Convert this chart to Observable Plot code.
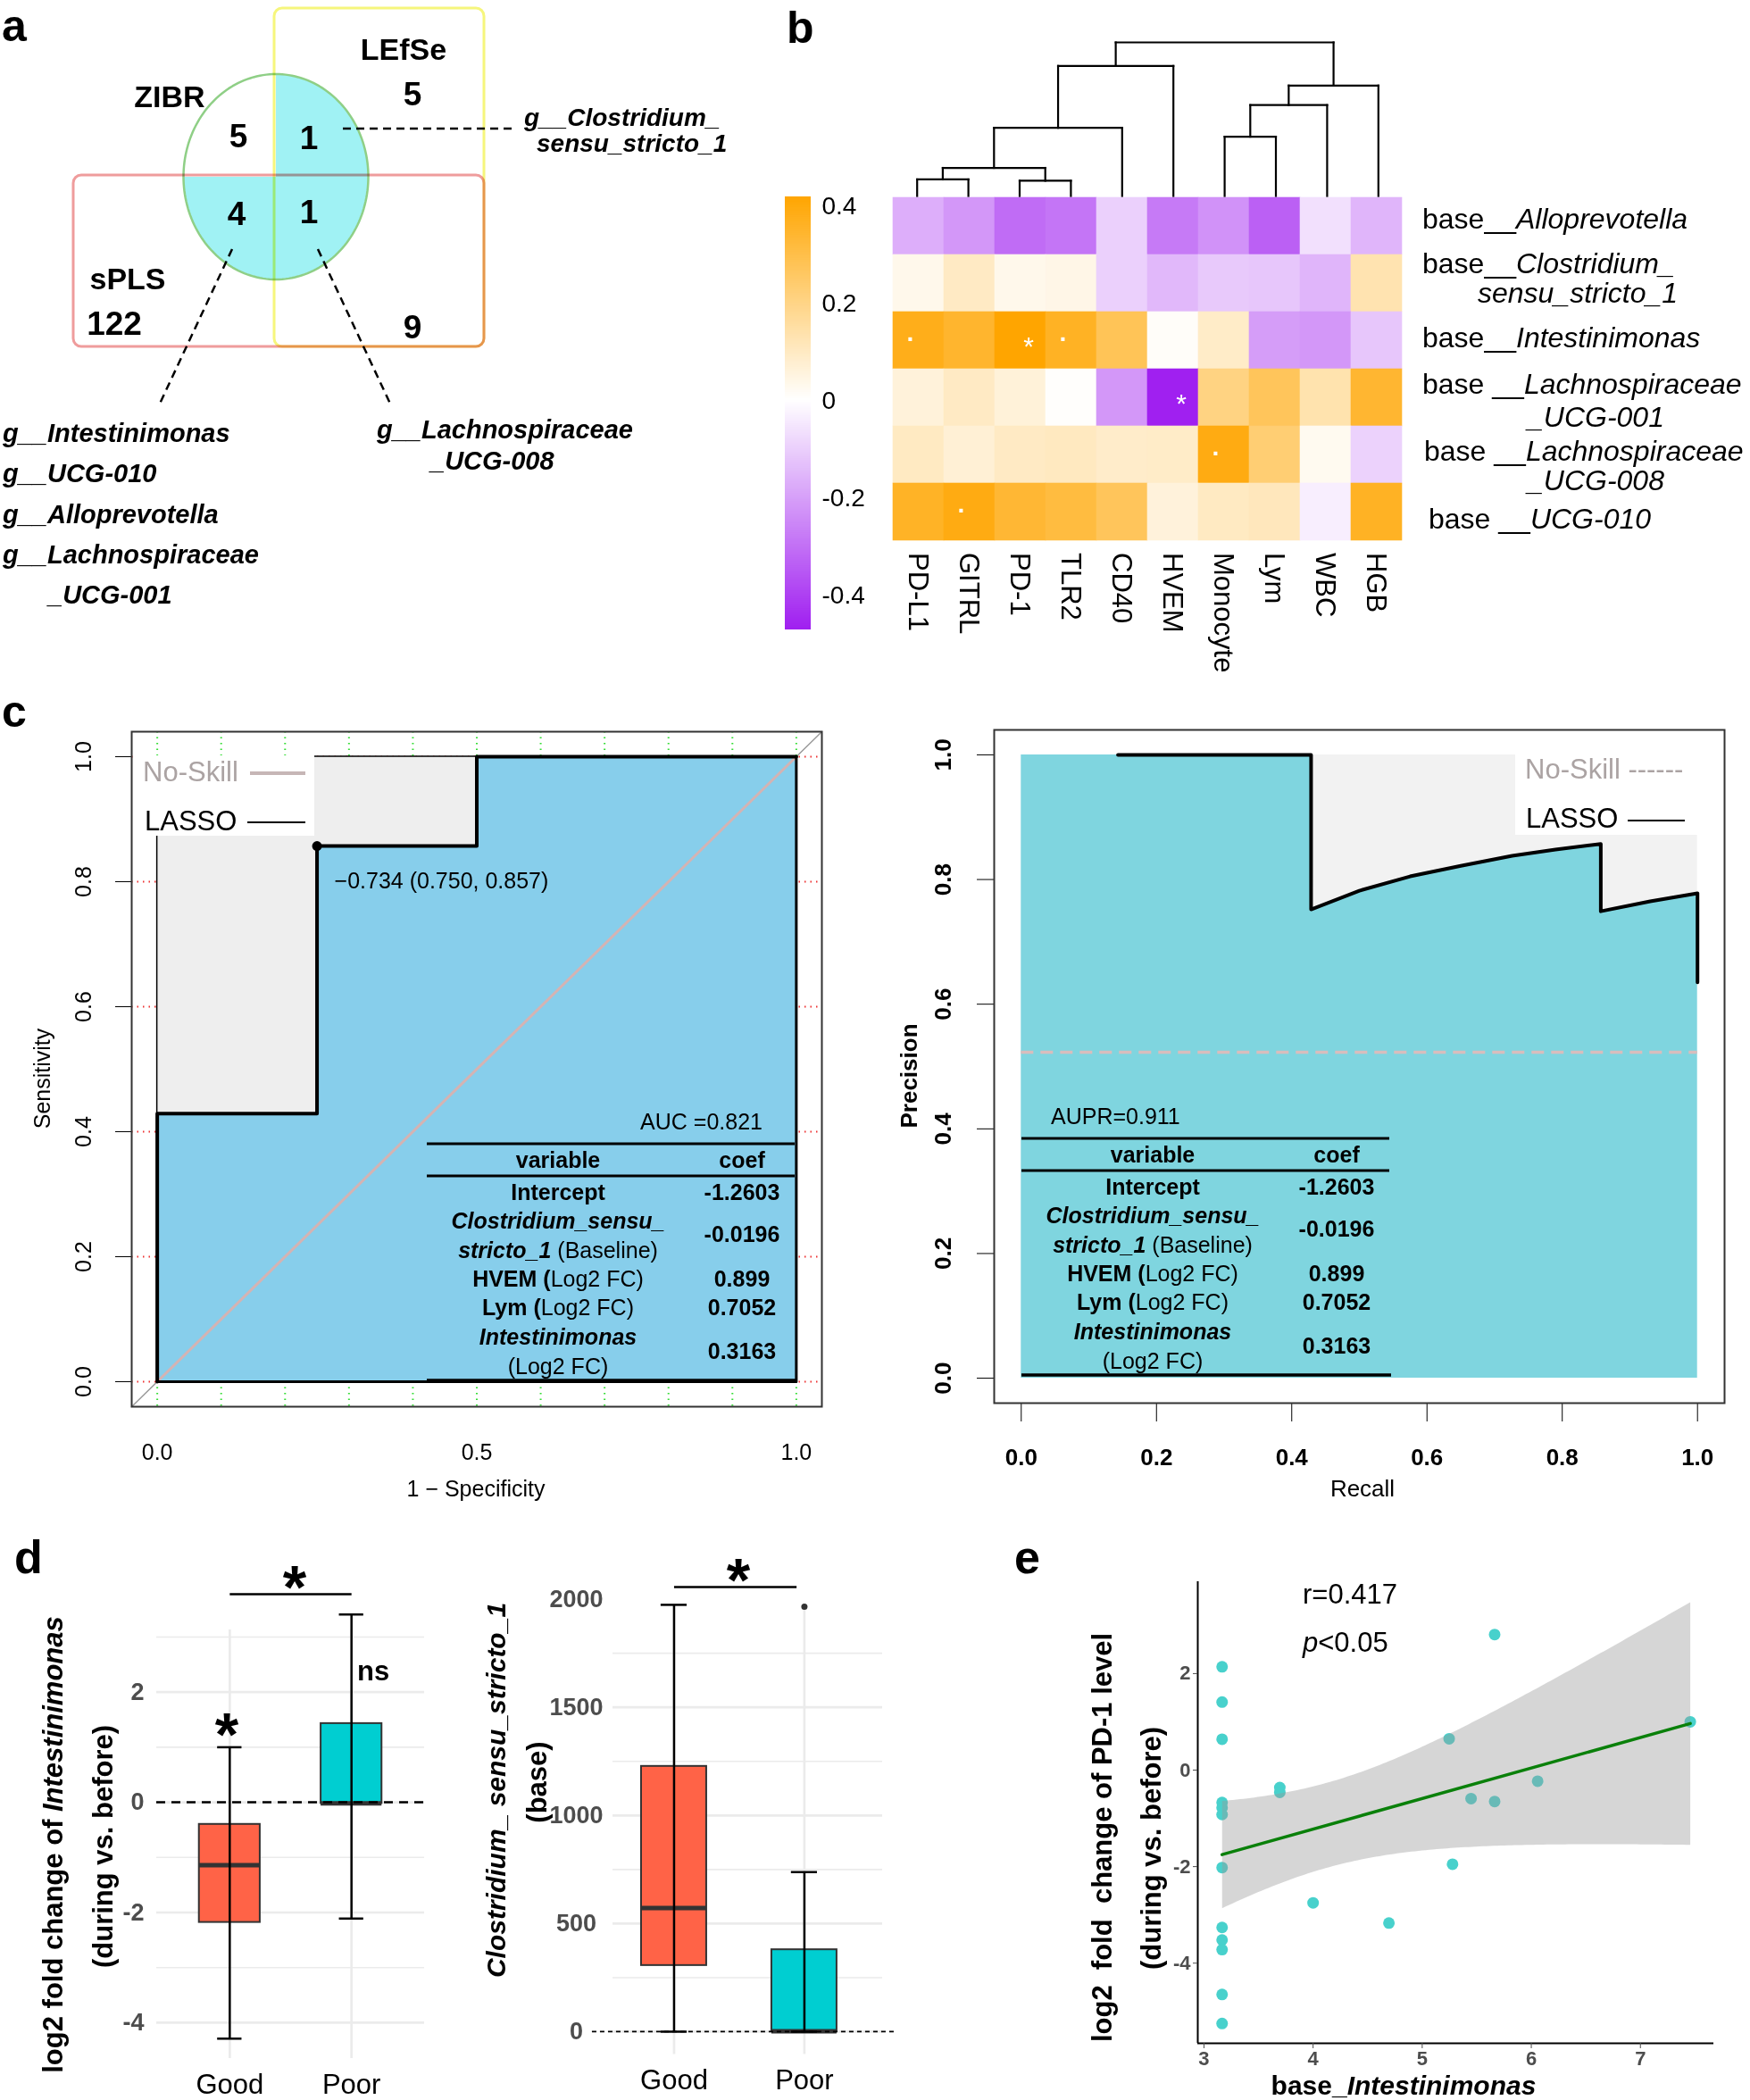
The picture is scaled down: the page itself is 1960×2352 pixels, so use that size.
<!DOCTYPE html>
<html><head><meta charset="utf-8">
<script src="https://cdn.jsdelivr.net/npm/d3@7"></script>
<script src="https://cdn.jsdelivr.net/npm/@observablehq/plot@0.6"></script>
<style>
html,body{margin:0;padding:0;background:#fff;}
#root{position:relative;width:1960px;height:2352px;background:#fff;overflow:hidden;font-family:"Liberation Sans",Arial,sans-serif;}
#overlay text{white-space:pre;}
</style></head><body><div id="root"></div>
<script>
// ================= DATA =================
// (a) Venn
const vennRegions = ["LEfSe only","ZIBR only","ZIBR∩LEfSe","ZIBR∩sPLS","ZIBR∩LEfSe∩sPLS","sPLS only","sPLS∩LEfSe"];
const vennCounts  = [5, 5, 1, 4, 1, 122, 9];
const vennSetNames = ["LEfSe","ZIBR","sPLS"];
const genusZibrLefse = ["g__Clostridium_","sensu_stricto_1"];
const genusZibrSpls  = ["g__Intestinimonas","g__UCG-010","g__Alloprevotella","g__Lachnospiraceae","_UCG-001"];
const genusAllThree  = ["g__Lachnospiraceae","_UCG-008"];

// (b) heatmap
const heatCols = ["PD-L1","GITRL","PD-1","TLR2","CD40","HVEM","Monocyte","Lym","WBC","HGB"];
const heatRows = ["Alloprevotella","Clostridium_sensu_stricto_1","Intestinimonas","Lachnospiraceae_UCG-001","Lachnospiraceae_UCG-008","UCG-010"];
const heatValues = [
  [-0.17,-0.22,-0.31,-0.29,-0.10,-0.28,-0.23,-0.335,-0.065,-0.155],
  [ 0.033,0.097,0.033,0.04,-0.10,-0.15,-0.114,-0.12,-0.155,0.13],
  [ 0.378,0.345,0.42,0.36,0.277,0.01,0.09,-0.206,-0.22,-0.12],
  [ 0.061,0.097,0.063,0.005,-0.22,-0.47,0.206,0.27,0.133,0.34],
  [ 0.10,0.07,0.098,0.104,0.087,0.09,0.39,0.23,0.025,-0.095],
  [ 0.357,0.39,0.334,0.315,0.27,0.06,0.10,0.11,-0.036,0.36]
];
const heatSigRow = ["Intestinimonas","Intestinimonas","Intestinimonas","Lachnospiraceae_UCG-001","Lachnospiraceae_UCG-008","UCG-010"];
const heatSigCol = ["PD-L1","PD-1","TLR2","HVEM","Monocyte","GITRL"];
const heatSigMark = [".","*",".","*",".","."];
const colorTicks = [-0.4,-0.2,0,0.2,0.4];
const colorLimits = [-0.47, 0.42];
// dendrogram (hclust style: negative = leaf index+1, positive = merge number)
const dendroLeft   = [-1,-3, 1, 3, 4,-7, 6, 7, 5];
const dendroRight  = [-2,-4, 2,-5,-6,-8,-9,-10, 8];
const dendroHeight = [0.185,0.17,0.314,0.762,1.454,0.663,1.016,1.235,1.717];

// (c) ROC
const rocFPR = [0, 0, 0.25, 0.25, 0.5, 0.5, 1];
const rocTPR = [0, 0.429, 0.429, 0.857, 0.857, 1, 1];
const rocBest = {threshold: -0.734, specificity: 0.750, sensitivity: 0.857};
const rocAUC = 0.821;
// (c) PR
const prRecall    = [0, 0.143, 0.4286, 0.4286, 0.50, 0.575, 0.65, 0.726, 0.79, 0.857, 0.857, 0.93, 1, 1];
const prPrecision = [1, 1, 1, 0.752, 0.782, 0.805, 0.822, 0.838, 0.848, 0.857, 0.749, 0.765, 0.778, 0.635];
const prNoSkill = 0.523;
const prAUPR = 0.911;
// LASSO table
const lassoTerms = ["Intercept","Clostridium_sensu_stricto_1 (Baseline)","HVEM (Log2 FC)","Lym (Log2 FC)","Intestinimonas (Log2 FC)"];
const lassoCoefs = ["-1.2603","-0.0196","0.899","0.7052","0.3163"];

// (d) boxplots
const boxGroups = ["Good","Poor"];
const intQ1 = [-2.18,-0.02], intMed = [-1.14,-0.02], intQ3 = [-0.40,1.43], intLo = [-4.29,-2.11], intHi = [1.0,3.41];
const cloQ1 = [306,0], cloMed = [572,2], cloQ3 = [1227,379], cloLo = [0,0], cloHi = [1974,738];
const cloOutGroup = [2], cloOutValue = [1965];

// (e) scatter
const eX = [3.166,3.166,3.166,3.166,3.166,3.166,3.166,3.166,3.166,3.166,3.166,3.166,3.695,3.695,4.0,4.695,5.247,5.278,5.448,5.664,5.664,6.058,7.457];
const eY = [2.14,1.41,0.64,-0.67,-0.78,-0.92,-2.02,-3.26,-3.52,-3.72,-4.65,-5.25,-0.36,-0.46,-2.75,-3.17,0.65,-1.95,-0.59,2.81,-0.65,-0.23,1.0];
const eR = "r=0.417", eP = "<0.05";

// ================= SETUP =================
const root = document.getElementById("root");
const FONT = "'Liberation Sans', Arial, sans-serif";
const baseStyle = {fontFamily: FONT, background: "transparent", overflow: "visible"};
const fmt = d => String(d);
function place(el, left, top) {
  el.style.position = "absolute"; el.style.left = left + "px"; el.style.top = top + "px";
  el.style.maxWidth = "none";
  root.appendChild(el); return el;
}

// ================= (a) VENN =================
const VL = {lefse: {x1:307,x2:542,y1:9,y2:388}, spls: {x1:82,x2:542,y1:196,y2:388}, zibr: {cx:308.5,cy:197.5,rx:103.5,ry:115}};
const ell = a => ({x: VL.zibr.cx + VL.zibr.rx*Math.cos(a*Math.PI/180), y: VL.zibr.cy - VL.zibr.ry*Math.sin(a*Math.PI/180)});
const ellipseRing = d3.range(0, 361, 2).map(ell);
const cyanPart = [{x:VL.zibr.cx, y:VL.zibr.cy}, ...d3.range(180, 451, 2).map(ell), {x:VL.zibr.cx, y:VL.zibr.cy}];
const venn = Plot.plot({
  width: 900, height: 700, margin: 0,
  x: {domain:[0,900], range:[0,900], axis:null}, y: {domain:[0,700], range:[0,700], axis:null},
  style: baseStyle,
  marks: [
    Plot.line(cyanPart, {x:"x", y:"y", fill:"#A0F2F4", stroke:"none"}),
    Plot.line(ellipseRing, {x:"x", y:"y", stroke:"#8FCF86", strokeWidth:2.5}),
    Plot.rect([VL.spls], {x1:"x1", x2:"x2", y1:"y1", y2:"y2", fill:"none", stroke:"#EF9C9C", strokeWidth:3, rx:9, mixBlendMode:"multiply"}),
    Plot.rect([VL.lefse], {x1:"x1", x2:"x2", y1:"y1", y2:"y2", fill:"none", stroke:"#F6F67C", strokeWidth:3, rx:9, mixBlendMode:"multiply"})
  ]
});
place(venn, 0, 0);

// ================= (b) HEATMAP =================
const colorCfg = {type:"linear", domain:[colorLimits[0], 0, colorLimits[1]], range:["#A020F0","#FFFFFF","#FFA500"], interpolate:"rgb", clamp:true};
const heatData = heatRows.flatMap((r,i) => heatCols.map((c,j) => ({row:r, col:c, v:heatValues[i][j]})));
const sigData = heatSigMark.map((m,k) => ({row:heatSigRow[k], col:heatSigCol[k], m}));
const heat = Plot.plot({
  width: 1100, height: 780, marginLeft: 138, marginRight: 388, marginTop: 219, marginBottom: 173,
  x: {domain: heatCols, padding: 0, axis: null}, y: {domain: heatRows, padding: 0, axis: null},
  color: colorCfg, style: baseStyle,
  marks: [
    Plot.cell(heatData, {x:"col", y:"row", fill:"v", stroke:"v", strokeWidth:0.6, inset:0}),
    Plot.text(sigData.filter(d => d.m === "*"), {x:"col", y:"row", text:"m", fill:"white", fontSize:30, dx:9, dy:7}),
    Plot.text(sigData.filter(d => d.m === "."), {x:"col", y:"row", text:"m", fill:"white", fontSize:28, fontWeight:"bold", dx:-9.5, dy:-8})
  ]
});
place(heat, 860, 0);

// dendrogram
const nodeX = [], nodeH = [], segs = [];
const nodePos = id => id < 0 ? {x: -id - 1, h: 0} : {x: nodeX[id-1], h: nodeH[id-1]};
dendroHeight.forEach((h, k) => {
  const A = nodePos(dendroLeft[k]), B = nodePos(dendroRight[k]);
  segs.push({x1:A.x, y1:A.h, x2:A.x, y2:h}, {x1:B.x, y1:B.h, x2:B.x, y2:h}, {x1:A.x, y1:h, x2:B.x, y2:h});
  nodeX[k] = (A.x + B.x)/2; nodeH[k] = h;
});
const dendro = Plot.plot({
  width: 1100, height: 230, marginLeft: 138, marginRight: 388, marginTop: 47, marginBottom: 11,
  x: {domain:[-0.5, heatCols.length - 0.5], axis:null}, y: {domain:[0, d3.max(dendroHeight)], axis:null},
  style: baseStyle,
  marks: [Plot.link(segs, {x1:"x1", y1:"y1", x2:"x2", y2:"y2", stroke:"#000", strokeWidth:2.2, strokeLinecap:"square"})]
});
place(dendro, 860, 0);

// colour bar
const rampVals = d3.range(colorLimits[0], colorLimits[1], 0.004);
const cbar = Plot.plot({
  width: 120, height: 540, marginLeft: 19, marginRight: 72, marginTop: 20, marginBottom: 35,
  x: {domain:[0,1], axis:null}, y: {domain: colorLimits, label:null}, color: colorCfg, style: baseStyle,
  marks: [
    Plot.rect(rampVals, {x1:0, x2:1, y1:d => d, y2:d => Math.min(d + 0.006, colorLimits[1]), fill:d => d}),
    Plot.axisY({anchor:"right", ticks: colorTicks, tickFormat: fmt, tickSize:0, tickPadding:12, fontSize:28, label:null})
  ]
});
place(cbar, 860, 200);

// ================= (c) ROC =================
const rocDomain = [-0.04, 1.04];
const roc = rocFPR.map((x,i) => ({x, y: rocTPR[i]}));
const rocClose = [{x:1, y:1}, {x:1, y:0}, {x:0, y:0}];
const noSkill = [{x:0, y:0}, {x:1, y:1}];
const rocPt = {x: 1 - rocBest.specificity, y: rocBest.sensitivity};
const rocPlot = Plot.plot({
  width: 960, height: 920, marginLeft: 147, marginRight: 40, marginTop: 39, marginBottom: 125,
  x: {domain: rocDomain, label: null}, y: {domain: rocDomain, label: null}, style: baseStyle,
  marks: [
    Plot.ruleX(d3.range(0, 11).map(i => i/10), {stroke:"#33DD33", strokeWidth:2, strokeDasharray:"1.5,5"}),
    Plot.ruleY(d3.range(0, 6).map(i => i/5), {stroke:"#EE3333", strokeWidth:2, strokeDasharray:"1.5,5"}),
    Plot.line(rocDomain.map(v => ({x:v, y:v})), {x:"x", y:"y", stroke:"#9A9A9A", strokeWidth:1.5}),
    Plot.areaY(roc, {x:"x", y1:0, y2:"y", fill:"#87CEEB"}),
    Plot.areaY(roc, {x:"x", y1:"y", y2:1, fill:"#EEEEEE", stroke:"#000", strokeWidth:1.5}),
    Plot.line(noSkill, {x:"x", y:"y", stroke:"#D4B3B3", strokeWidth:3}),
    Plot.line(rocClose, {x:"x", y:"y", stroke:"#000", strokeWidth:3}),
    Plot.line(roc, {x:"x", y:"y", stroke:"#000", strokeWidth:4}),
    Plot.dot([rocPt], {x:"x", y:"y", r:5.5, fill:"#000"}),
    Plot.axisY({ticks:[0,0.2,0.4,0.6,0.8,1], tickFormat: d => d.toFixed(1), tickSize:18, tickRotate:-90, tickPadding:28, fontSize:25, label:null}),
    Plot.axisX({ticks:[0,0.5,1], tickFormat: d => d.toFixed(1), tickSize:0, tickPadding:42, fontSize:25, label:null}),
    Plot.frame({stroke:"#333", strokeWidth:2})
  ]
});
place(rocPlot, 0, 780);

// ================= (c) PR =================
const pr = prRecall.map((r,i) => ({r, p: prPrecision[i]}));
const prPlot = Plot.plot({
  width: 1000, height: 920, marginLeft: 153, marginRight: 29, marginTop: 37, marginBottom: 129,
  x: {domain: rocDomain, label:null}, y: {domain: rocDomain, label:null}, style: baseStyle,
  marks: [
    Plot.areaY(pr, {x:"r", y1:0, y2:"p", fill:"#7FD5DF"}),
    Plot.areaY(pr, {x:"r", y1:"p", y2:1, fill:"#F2F2F2"}),
    Plot.ruleY([prNoSkill], {x1:0, x2:1, stroke:"#D8BDBD", strokeWidth:3.5, strokeDasharray:"14,8"}),
    Plot.line(pr.slice(1), {x:"r", y:"p", stroke:"#000", strokeWidth:4}),
    Plot.axisY({ticks:[0,0.2,0.4,0.6,0.8,1], tickFormat: d => d.toFixed(1), tickSize:19, tickRotate:-90, tickPadding:30, fontSize:26, fontWeight:"bold", label:null}),
    Plot.axisX({ticks:[0,0.2,0.4,0.6,0.8,1], tickFormat: d => d.toFixed(1), tickSize:21, tickPadding:30, fontSize:26, fontWeight:"bold", label:null}),
    Plot.frame({stroke:"#333", strokeWidth:2})
  ]
});
place(prPlot, 960, 780);

// ================= (d) BOXPLOTS =================
const boxColors = ["#FF6347", "#00CED1"];
function boxMarks(S, zeroOpts) {
  const d = boxGroups.map((g,k) => ({g, i:k+1, q1:S.q1[k], med:S.med[k], q3:S.q3[k], lo:S.lo[k], hi:S.hi[k]}));
  return [
    ...d.map((v,k) => Plot.rect([v], {x1: w => w.i - 0.25, x2: w => w.i + 0.25, y1:"q1", y2:"q3", fill: boxColors[k], stroke:"#333", strokeWidth:2})),
    Plot.ruleY(d, {y:"med", x1: w => w.i - 0.25, x2: w => w.i + 0.25, stroke:"#333", strokeWidth:5}),
    Plot.ruleY([0], zeroOpts),
    Plot.ruleX(d, {x:"i", y1:"lo", y2:"hi", stroke:"#000", strokeWidth:2.5}),
    Plot.ruleY(d, {y:"hi", x1: w => w.i - 0.1, x2: w => w.i + 0.1, stroke:"#000", strokeWidth:2.5}),
    Plot.ruleY(d, {y:"lo", x1: w => w.i - 0.1, x2: w => w.i + 0.1, stroke:"#000", strokeWidth:2.5})
  ];
}
const grid = "#EBEBEB";
const boxL = Plot.plot({
  width: 500, height: 652, marginLeft: 175, marginRight: 25, marginTop: 125, marginBottom: 47,
  x: {domain:[0.4, 2.6], label:null}, y: {domain:[-4.65, 3.13], label:null}, style: baseStyle,
  marks: [
    Plot.ruleY([-3,-1,1,3], {stroke:grid, strokeWidth:1.6}),
    Plot.ruleY([-4,-2,0,2], {stroke:grid, strokeWidth:2.7}),
    Plot.ruleX([1,2], {stroke:grid, strokeWidth:2.7}),
    ...boxMarks({q1:intQ1, med:intMed, q3:intQ3, lo:intLo, hi:intHi}, {stroke:"#000", strokeWidth:2.5, strokeDasharray:"10,7"}),
    Plot.link([{x1:1, x2:2, y:3.78}], {x1:"x1", x2:"x2", y1:"y", y2:"y", stroke:"#000", strokeWidth:2.5}),
    Plot.axisY({ticks:[-4,-2,0,2], tickFormat: fmt, tickSize:0, tickPadding:14, fontSize:27, fontWeight:"bold", color:"#4D4D4D", label:null}),
    Plot.axisX({ticks:[1,2], tickFormat: i => boxGroups[i-1], tickSize:0, tickPadding:17, fontSize:31, label:null})
  ]
});
place(boxL, 0, 1700);

const boxR = Plot.plot({
  width: 500, height: 652, marginLeft: 186, marginRight: 12, marginTop: 88.2, marginBottom: 51.6,
  x: {domain:[0.531, 2.6], label:null}, y: {domain:[-105, 2010], label:null}, style: baseStyle,
  marks: [
    Plot.ruleY([250,750,1250,1750], {stroke:grid, strokeWidth:1.6}),
    Plot.ruleY([0,500,1000,1500], {stroke:grid, strokeWidth:2.7}),
    Plot.ruleX([1,2], {y1:-105, y2:1975, stroke:grid, strokeWidth:2.7}),
    ...boxMarks({q1:cloQ1, med:cloMed, q3:cloQ3, lo:cloLo, hi:cloHi}, {x1:0.373, x2:2.7, stroke:"#000", strokeWidth:1.8, strokeDasharray:"5,4"}),
    Plot.dot(cloOutGroup.map((g,k) => ({g, v:cloOutValue[k]})), {x:"g", y:"v", r:3.5, fill:"#333"}),
    Plot.link([{x1:1, x2:1.94, y:2056}], {x1:"x1", x2:"x2", y1:"y", y2:"y", stroke:"#000", strokeWidth:2.5}),
    Plot.axisY({ticks:[0,500,1000,1500,2000], tickFormat: fmt, tickSize:0, tickPadding:41, textAnchor:"middle", fontSize:27, fontWeight:"bold", color:"#4D4D4D", label:null}),
    Plot.axisX({ticks:[1,2], tickFormat: i => boxGroups[i-1], tickSize:0, tickPadding:17, fontSize:31, label:null})
  ]
});
place(boxR, 500, 1700);

// ================= (e) SCATTER =================
const ePts = eX.map((x,i) => ({x, y: eY[i]}));
const eXd = [2.943, 7.673], eYd = [-5.661, 3.904];
const scat = Plot.plot({
  width: 860, height: 652, marginLeft: 241, marginRight: 41, marginTop: 71, marginBottom: 64,
  x: {domain: eXd, label:null}, y: {domain: eYd, label:null}, style: baseStyle,
  marks: [
    Plot.dot(ePts, {x:"x", y:"y", r:6.5, fill:"#48D1CC"}),
    Plot.linearRegressionY(ePts, {x:"x", y:"y", stroke:"#0A800A", strokeWidth:3.5, fill:"#999999", fillOpacity:0.4, ci:0.95}),
    Plot.ruleX([eXd[0]], {stroke:"#000", strokeWidth:2}),
    Plot.ruleY([eYd[0]], {stroke:"#000", strokeWidth:2}),
    Plot.axisX({ticks:[3,4,5,6,7], tickFormat: fmt, tickSize:6, tickPadding:3, fontSize:22, fontWeight:"bold", color:"#4D4D4D", label:null}),
    Plot.axisY({ticks:[-4,-2,0,2], tickFormat: fmt, tickSize:5, tickPadding:3, fontSize:22, fontWeight:"bold", color:"#4D4D4D", label:null})
  ]
});
place(scat, 1100, 1700);

// ================= OVERLAY TEXT =================
const ov = d3.create("svg").attr("id","overlay").attr("width",1960).attr("height",2352)
  .style("position","absolute").style("left","0px").style("top","0px")
  .style("font-family", FONT).style("pointer-events","none").style("overflow","visible");
root.appendChild(ov.node());
function T(x, y, parts, o = {}) {
  const t = ov.append("text").attr("font-size", o.size || 28).attr("text-anchor", o.anchor || "start")
    .attr("font-weight", o.weight || "normal").attr("fill", o.fill || "#000");
  let tr = `translate(${x},${y})`;
  if (o.rotate) tr += ` rotate(${o.rotate})`;
  if (o.sx) tr += ` scale(${o.sx},1)`;
  t.attr("transform", tr);
  if (o.dy) t.attr("dy", o.dy);
  if (typeof parts === "string") parts = [[parts]];
  for (const [s, st = ""] of parts) {
    const ts = t.append("tspan").text(s);
    if (st.includes("i")) ts.attr("font-style", "italic");
    if (st.includes("b")) ts.attr("font-weight", "bold");
    if (st.includes("n")) ts.attr("font-weight", "normal");
  }
  return t;
}
function L(x1, y1, x2, y2, o = {}) {
  ov.append("line").attr("x1",x1).attr("y1",y1).attr("x2",x2).attr("y2",y2)
    .attr("stroke", o.stroke || "#000").attr("stroke-width", o.w || 2).attr("stroke-dasharray", o.dash || null);
}
function R(x, y, w, h, fill) { ov.append("rect").attr("x",x).attr("y",y).attr("width",w).attr("height",h).attr("fill",fill); }

// panel letters
T(2, 46, "a", {size:50, weight:"bold"});
T(881, 48, "b", {size:50, weight:"bold"});
T(2, 814, "c", {size:50, weight:"bold"});
T(16, 1762, "d", {size:52, weight:"bold"});
T(1136, 1762, "e", {size:52, weight:"bold"});

// (a) text
const setLabelPos = [[452,67],[190,120],[143,324]];
vennSetNames.forEach((s,k) => T(setLabelPos[k][0], setLabelPos[k][1], s, {size:34, weight:"bold", anchor:"middle"}));
const countPos = [[462,118],[267,165],[346,167],[265,252],[346,250],[128,375],[462,379]];
vennCounts.forEach((c,k) => T(countPos[k][0], countPos[k][1], String(c), {size:37, weight:"bold", anchor:"middle"}));
L(384,144,574,144,{w:2.5, dash:"9,6"});
L(260,279,179,452,{w:2.5, dash:"9,6"});
L(356,279,437,452,{w:2.5, dash:"9,6"});
T(587, 141, [[genusZibrLefse[0],"bi"]], {size:28});
T(601, 170, [[genusZibrLefse[1],"bi"]], {size:28});
const leftListY = [495,540,586,631,676];
genusZibrSpls.forEach((g,k) => T(k === 4 ? 54 : 3, leftListY[k], [[g,"bi"]], {size:29}));
T(422, 491, [[genusAllThree[0],"bi"]], {size:29});
T(482, 526, [[genusAllThree[1],"bi"]], {size:29});

// (b) row labels
const rowLabelSpec = [
  [[1593,256,[["base__"],["Alloprevotella","i"]]]],
  [[1593,306,[["base__"],["Clostridium_","i"]]],[1655,339,[["sensu_stricto_1","i"]]]],
  [[1593,389,[["base__"],["Intestinimonas","i"]]]],
  [[1593,441,[["base __"],["Lachnospiraceae","i"]]],[1711,478,[["_UCG-001","i"]]]],
  [[1595,516,[["base __"],["Lachnospiraceae","i"]]],[1711,549,[["_UCG-008","i"]]]],
  [[1600,592,[["base __"],["UCG-010","i"]]]]
];
rowLabelSpec.forEach(lines => lines.forEach(([x,y,p]) => T(x, y, p, {size:32})));
const hx = heat.scale("x");
heatCols.forEach(c => T(860 + hx.apply(c) + hx.bandwidth/2, 619, c, {size:31, rotate:90, dy:"0.35em"}));

// (c) ROC annotations
const rx = rocPlot.scale("x"), ry = rocPlot.scale("y");
T(rx.apply(rocPt.x) + 20, 780 + ry.apply(rocPt.y) + 48,
  `${String(rocBest.threshold).replace("-","−")} (${rocBest.specificity.toFixed(3)}, ${rocBest.sensitivity.toFixed(3)})`, {size:25});
R(150, 846, 202, 90, "#fff");
T(160, 875, "No-Skill", {size:31, fill:"#ABA3A3"});
L(280, 866, 342, 866, {stroke:"#C6B6B6", w:4});
T(162, 930, "LASSO", {size:31});
L(277, 921, 342, 921, {w:2});
T(854, 1265, `AUC =${rocAUC}`, {size:25, anchor:"end"});
T(533, 1676, "1 − Specificity", {size:25, anchor:"middle"});
T(56, 1208, "Sensitivity", {size:25, anchor:"middle", rotate:-90});

// PR annotations
R(1697, 845, 204, 90, "#fff");
T(1708, 872, "No-Skill ------", {size:31, fill:"#ABA3A3"});
T(1709, 927, "LASSO", {size:31});
L(1823, 919, 1887, 919, {w:2});
T(1177, 1259, `AUPR=${prAUPR}`, {size:25});
T(1526, 1676, "Recall", {size:26, anchor:"middle"});
T(1027, 1205, "Precision", {size:26, anchor:"middle", rotate:-90, weight:"bold"});

// LASSO tables
const termLines = [
  [[63, [[lassoTerms[0],"b"]]]],
  [[95, [["Clostridium_sensu_","bi"]]], [128, [["stricto_1","bi"],[" (Baseline)","n"]]]],
  [[160, [["HVEM (","b"],["Log2 FC)","n"]]]],
  [[192, [["Lym (","b"],["Log2 FC)","n"]]]],
  [[225, [["Intestinimonas","bi"]]], [258, [["(Log2 FC)","n"]]]]
];
const coefDy = [63, 110, 160, 192, 241];
function drawTable(x0, y0) {
  L(x0, y0, x0 + 412, y0, {w:3});
  T(x0 + 147, y0 + 27, [["variable","b"]], {size:25, anchor:"middle"});
  T(x0 + 353, y0 + 27, [["coef","b"]], {size:25, anchor:"middle"});
  L(x0, y0 + 36, x0 + 412, y0 + 36, {w:3});
  termLines.forEach(lines => lines.forEach(([dy, p]) => T(x0 + 147, y0 + dy, p, {size:25, anchor:"middle"})));
  lassoCoefs.forEach((c,k) => T(x0 + 353, y0 + coefDy[k], [[c,"b"]], {size:25, anchor:"middle"}));
  L(x0, y0 + 265, x0 + 414, y0 + 265, {w:3.5});
}
drawTable(478, 1281);
drawTable(1144, 1275);

// (d) annotations
T(330, 1801, "*", {size:68, weight:"bold", anchor:"middle"});
T(254, 1966, "*", {size:68, weight:"bold", anchor:"middle"});
T(400, 1882, "ns", {size:31, weight:"bold"});
T(827, 1793, "*", {size:68, weight:"bold", anchor:"middle"});
T(70, 2066, [["log2 fold change of ","b"],["Intestinimonas","bi"]], {size:31, anchor:"middle", rotate:-90});
T(126, 2068, [["(during vs. before)","b"]], {size:31, anchor:"middle", rotate:-90});
T(566, 2005, [["Clostridium_ sensu_stricto_1","bi"]], {size:30, anchor:"middle", rotate:-90});
T(612, 1996, [["(base)","b"]], {size:31, anchor:"middle", rotate:-90});

// (e) annotations
T(1459, 1796, eR, {size:31});
T(1459, 1850, [["p","i"],[eP]], {size:31});
T(1245, 2058, [["log2  fold  change of PD-1 level","b"]], {size:31, anchor:"middle", rotate:-90});
T(1300, 2070, [["(during vs. before)","b"]], {size:31, anchor:"middle", rotate:-90});
T(1572, 2346, [["base_","b"],["Intestinimonas","bi"]], {size:30, anchor:"middle"});
</script></body></html>
